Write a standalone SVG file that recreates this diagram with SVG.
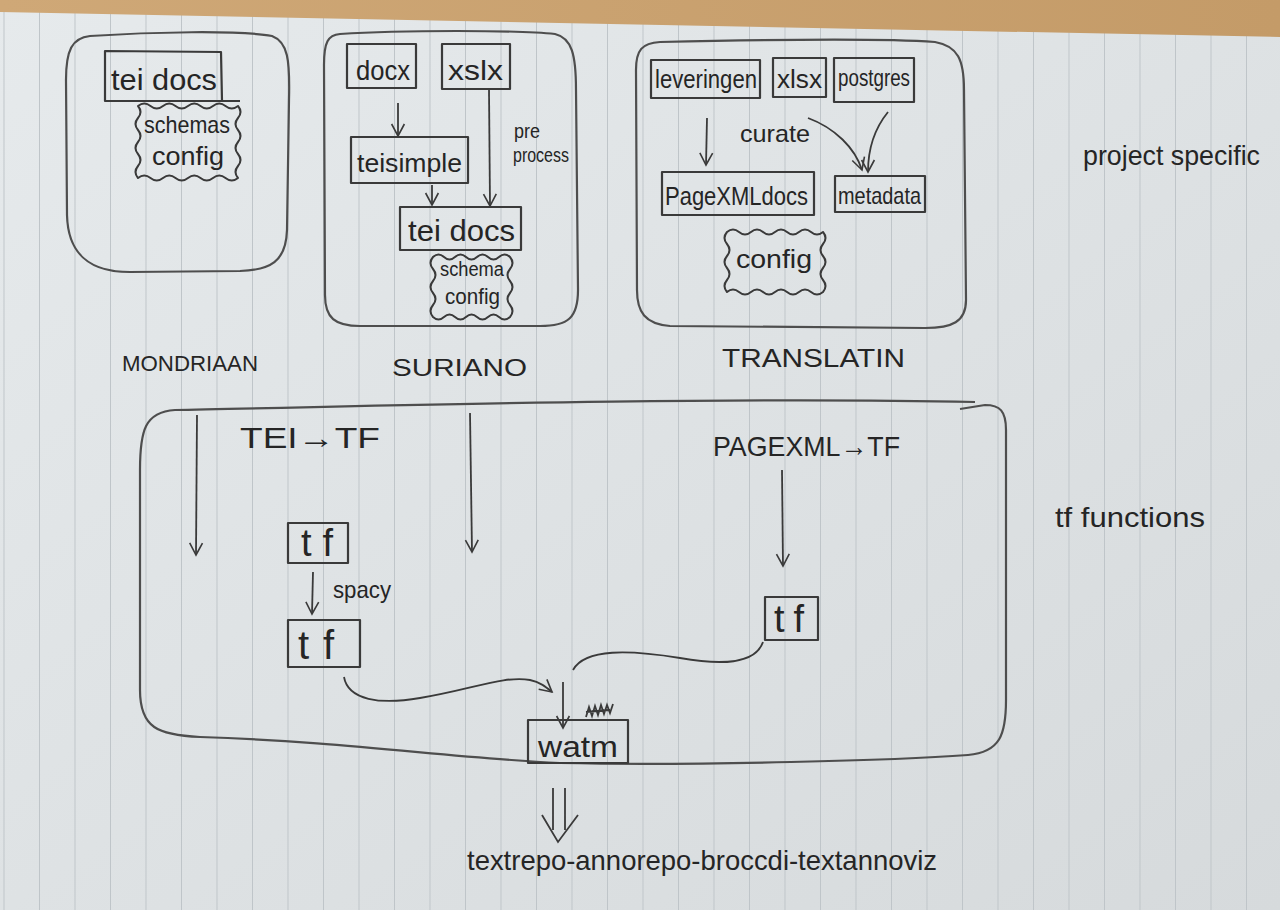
<svg xmlns="http://www.w3.org/2000/svg" width="1280" height="910" viewBox="0 0 1280 910">
  <defs>
    <linearGradient id="paper" x1="0" y1="0" x2="1" y2="1">
      <stop offset="0" stop-color="#e6eaec"/>
      <stop offset="1" stop-color="#d6dadc"/>
    </linearGradient>
    <linearGradient id="wood" x1="0" y1="0" x2="1" y2="0">
      <stop offset="0" stop-color="#cfa877"/>
      <stop offset="1" stop-color="#c49b68"/>
    </linearGradient>
    <pattern id="rules" x="3.5" y="0" width="35.5" height="910" patternUnits="userSpaceOnUse">
      <line x1="0.5" y1="0" x2="0.5" y2="910" stroke="#bfc5c9" stroke-width="1"/>
    </pattern>
    <marker id="arr" viewBox="0 0 20 20" refX="18" refY="10" markerWidth="16" markerHeight="16" orient="auto" markerUnits="userSpaceOnUse">
      <path d="M3,2 L18,10 L3,18" fill="none" stroke="#3a3a3a" stroke-width="2"/>
    </marker>
    <style>
      .box { fill: none; stroke: #3a3a3a; stroke-width: 2.2; stroke-linejoin: round; }
      .frame { fill: none; stroke: #4e4e4e; stroke-width: 2.2; stroke-linejoin: round; }
      .wavy { fill: none; stroke: #3a3a3a; stroke-width: 2; stroke-linejoin: round; }
      .edge { fill: none; stroke: #3a3a3a; stroke-width: 1.8; marker-end: url(#arr); }
      .line { fill: none; stroke: #3a3a3a; stroke-width: 1.8; }
      .t { font-family: "Liberation Sans", "DejaVu Sans", sans-serif; fill: #252525; text-anchor: start; }
    </style>
  </defs>

  <!-- paper -->
  <rect x="0" y="0" width="1280" height="910" fill="url(#paper)"/>
  <rect x="0" y="0" width="1280" height="910" fill="url(#rules)"/>
  <polygon points="0,0 1280,0 1280,37 0,12" fill="url(#wood)"/>

  <!-- MONDRIAAN -->
  <g id="mondriaan">
    <path class="frame" d="M90,36 C150,32 240,30 272,36 C288,42 290,60 289,100 L287,230 C286,262 270,270 240,271 L130,272 C90,272 68,255 67,215 L66,80 C66,50 72,38 90,36 Z"/>
    <g id="m-teidocs">
      <path class="box" d="M105,51 L221,52 L222,101 L105,101 Z M222,101 L240,101"/>
      <text class="t" x="111" y="90" font-size="30" textLength="106" lengthAdjust="spacingAndGlyphs">tei docs</text>
    </g>
    <g id="m-schemas-config">
      <path class="wavy" d="M138,106 q6.25,-5 12.5,0 t12.5,0 t12.5,0 t12.5,0 t12.5,0 t12.5,0 t12.5,0 t12.5,0 q5,6 0,12 t0,12 t0,12 t0,12 t0,12 t0,12 q-6.25,5 -12.5,0 t-12.5,0 t-12.5,0 t-12.5,0 t-12.5,0 t-12.5,0 t-12.5,0 t-12.5,0 q-5,-6 0,-12 t0,-12 t0,-12 t0,-12 t0,-12 t0,-12 Z"/>
      <text class="t" x="144" y="133" font-size="24" textLength="86" lengthAdjust="spacingAndGlyphs">schemas</text>
      <text class="t" x="152" y="165" font-size="26" textLength="72" lengthAdjust="spacingAndGlyphs">config</text>
    </g>
    <text class="t" x="122" y="371" font-size="22" textLength="136" lengthAdjust="spacingAndGlyphs">MONDRIAAN</text>
  </g>

  <!-- SURIANO -->
  <g id="suriano">
    <path class="frame" d="M340,34 C400,30 520,30 555,34 C572,38 576,55 576,90 L578,290 C578,318 568,326 540,326 L360,326 C335,326 325,318 325,295 L324,65 C324,42 328,35 340,34 Z"/>
    <g id="s-docx">
      <rect class="box" x="347" y="44" width="69" height="44"/>
      <text class="t" x="356" y="80" font-size="28" textLength="54" lengthAdjust="spacingAndGlyphs">docx</text>
    </g>
    <g id="s-xslx">
      <rect class="box" x="442" y="44" width="68" height="45"/>
      <text class="t" x="448" y="80" font-size="28" textLength="55" lengthAdjust="spacingAndGlyphs">xslx</text>
    </g>
    <g id="s-teisimple">
      <rect class="box" x="351" y="137" width="117" height="46"/>
      <text class="t" x="357" y="172" font-size="26" textLength="105" lengthAdjust="spacingAndGlyphs">teisimple</text>
    </g>
    <g id="s-teidocs">
      <rect class="box" x="400" y="207" width="121" height="43"/>
      <text class="t" x="408" y="241" font-size="30" textLength="107" lengthAdjust="spacingAndGlyphs">tei docs</text>
    </g>
    <g id="s-schema-config">
      <path class="wavy" d="M433,257 q5.5,-5 11,0 t11,0 t11,0 t11,0 t11,0 t11,0 t11,0 q5,6 0,12 t0,12 t0,12 t0,12 t0,12 q-5.5,5 -11,0 t-11,0 t-11,0 t-11,0 t-11,0 t-11,0 t-11,0 q-5,-6 0,-12 t0,-12 t0,-12 t0,-12 t0,-12 Z"/>
      <text class="t" x="440" y="276" font-size="20" textLength="64" lengthAdjust="spacingAndGlyphs">schema</text>
      <text class="t" x="445" y="304" font-size="22" textLength="55" lengthAdjust="spacingAndGlyphs">config</text>
    </g>
    <text class="t" x="514" y="138" font-size="20" textLength="26" lengthAdjust="spacingAndGlyphs">pre</text>
    <text class="t" x="513" y="162" font-size="20" textLength="56" lengthAdjust="spacingAndGlyphs">process</text>
    <text class="t" x="392" y="376" font-size="24" textLength="135" lengthAdjust="spacingAndGlyphs">SURIANO</text>
  </g>

  <!-- TRANSLATIN -->
  <g id="translatin">
    <path class="frame" d="M660,42 C750,40 880,38 935,42 C958,46 964,60 964,90 L966,300 C966,322 952,328 925,328 L670,326 C645,324 637,312 637,290 L636,70 C636,50 642,43 660,42 Z"/>
    <g id="t-leveringen">
      <rect class="box" x="651" y="60" width="109" height="38"/>
      <text class="t" x="655" y="88" font-size="26" textLength="102" lengthAdjust="spacingAndGlyphs">leveringen</text>
    </g>
    <g id="t-xlsx">
      <rect class="box" x="773" y="58" width="53" height="39"/>
      <text class="t" x="777" y="88" font-size="26" textLength="45" lengthAdjust="spacingAndGlyphs">xlsx</text>
    </g>
    <g id="t-postgres">
      <rect class="box" x="834" y="58" width="80" height="44"/>
      <text class="t" x="838" y="86" font-size="24" textLength="72" lengthAdjust="spacingAndGlyphs">postgres</text>
    </g>
    <g id="t-pagexmldocs">
      <rect class="box" x="662" y="172" width="152" height="43"/>
      <text class="t" x="665" y="205" font-size="26" textLength="143" lengthAdjust="spacingAndGlyphs">PageXMLdocs</text>
    </g>
    <g id="t-metadata">
      <rect class="box" x="835" y="176" width="90" height="36"/>
      <text class="t" x="838" y="204" font-size="24" textLength="83" lengthAdjust="spacingAndGlyphs">metadata</text>
    </g>
    <g id="t-config">
      <path class="wavy" d="M727,232 q6,-5 12,0 t12,0 t12,0 t12,0 t12,0 t12,0 t12,0 t12,0 q5,6 0,12 t0,12 t0,12 t0,12 t0,12 q-6,5 -12,0 t-12,0 t-12,0 t-12,0 t-12,0 t-12,0 t-12,0 t-12,0 q-5,-6 0,-12 t0,-12 t0,-12 t0,-12 t0,-12 Z"/>
      <text class="t" x="736" y="268" font-size="26" textLength="76" lengthAdjust="spacingAndGlyphs">config</text>
    </g>
    <text class="t" x="740" y="142" font-size="24" textLength="70" lengthAdjust="spacingAndGlyphs">curate</text>
    <text class="t" x="722" y="367" font-size="26" textLength="183" lengthAdjust="spacingAndGlyphs">TRANSLATIN</text>
  </g>

  <text class="t" x="1083" y="165" font-size="28" textLength="177" lengthAdjust="spacingAndGlyphs">project specific</text>

  <!-- tf functions -->
  <g id="tf-functions">
    <path class="frame" d="M975,402 C700,396 300,408 175,410 C145,412 140,430 140,470 L140,690 C140,728 158,735 200,737 C350,742 450,758 560,763 C700,766 900,760 968,755 C1000,752 1006,735 1006,700 L1006,430 C1006,411 1000,405 985,405 L960,409"/>
    <text class="t" x="240" y="448" font-size="30" textLength="140" lengthAdjust="spacingAndGlyphs">TEI→TF</text>
    <text class="t" x="713" y="456" font-size="28" textLength="187" lengthAdjust="spacingAndGlyphs">PAGEXML→TF</text>
    <g id="tf1">
      <rect class="box" x="288" y="523" width="60" height="40"/>
      <text class="t" x="301" y="556" font-size="38" textLength="32" lengthAdjust="spacing">tf</text>
    </g>
    <g id="tf2">
      <rect class="box" x="288" y="620" width="72" height="47"/>
      <text class="t" x="298" y="659" font-size="40" textLength="36" lengthAdjust="spacing">tf</text>
    </g>
    <g id="tf3">
      <rect class="box" x="765" y="597" width="53" height="43"/>
      <text class="t" x="774" y="632" font-size="38" textLength="30" lengthAdjust="spacing">tf</text>
    </g>
    <text class="t" x="333" y="598" font-size="24" textLength="58" lengthAdjust="spacingAndGlyphs">spacy</text>
  </g>
  <text class="t" x="1055" y="527" font-size="28" textLength="150" lengthAdjust="spacingAndGlyphs">tf functions</text>

  <g id="watm">
    <rect class="box" x="528" y="720" width="100" height="43"/>
    <text class="t" x="538" y="757" font-size="30" textLength="80" lengthAdjust="spacingAndGlyphs">watm</text>
    <path class="line" d="M586,717 l3,-10 l3,9 l3,-10 l3,9 l3,-10 l3,9 l3,-9 l3,8 l3,-9 M586,712 l24,-2"/>
  </g>

  <text class="t" x="467" y="870" font-size="28" textLength="470" lengthAdjust="spacingAndGlyphs">textrepo-annorepo-broccdi-textannoviz</text>

  <!-- connectors -->
  <g id="connectors">
    <path class="edge" d="M398,103 L398,136"/>
    <path class="edge" d="M432,185 L432,205"/>
    <path class="edge" d="M489,90 L490,206"/>
    <path class="edge" d="M707,118 L706,165"/>
    <path class="edge" d="M808,118 C835,128 855,148 862,170"/>
    <path class="edge" d="M888,112 C875,128 868,148 868,172"/>
    <path class="edge" d="M197,415 L196,555"/>
    <path class="edge" d="M470,413 L472,552"/>
    <path class="edge" d="M782,470 L783,566"/>
    <path class="edge" d="M313,572 L312,614"/>
    <path class="edge" d="M344,677 C348,700 380,705 420,698 C470,690 505,675 530,680 C540,682 546,687 552,692"/>
    <path class="line" d="M763,642 C755,665 720,665 680,658 C630,650 585,648 573,670"/>
    <path class="edge" d="M563,682 L563,728"/>
    <path class="line" d="M553,788 L553,830 M565,788 L565,830 M542,815 L558,842 L578,815"/>
  </g>
</svg>
